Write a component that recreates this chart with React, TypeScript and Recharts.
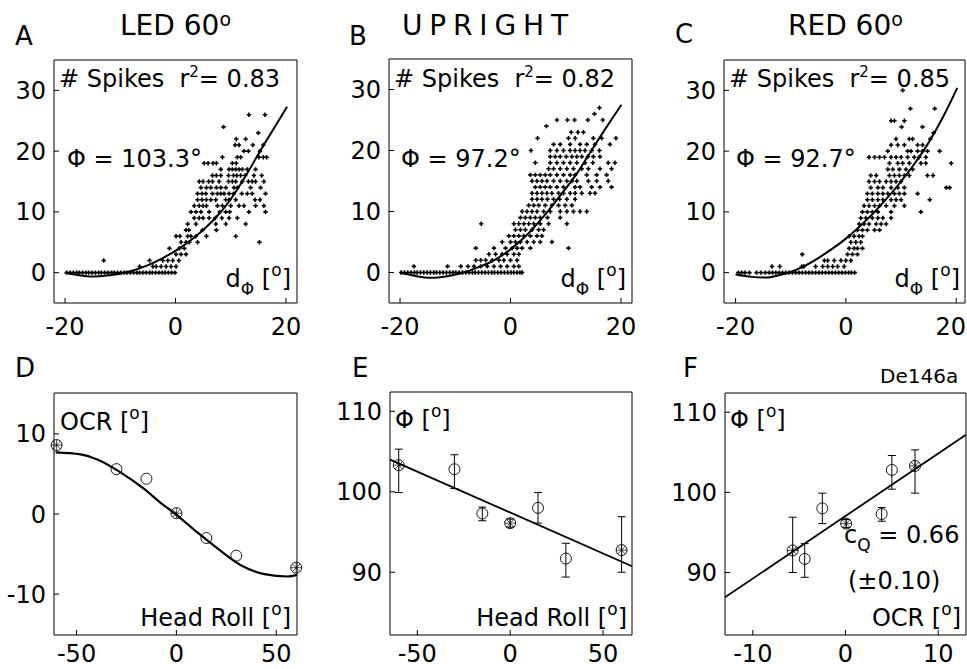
import React from "react";
import { ScatterChart, Scatter, XAxis, YAxis, ErrorBar } from "recharts";

const FONT = "'DejaVu Sans', 'Liberation Sans', sans-serif";
const PAGE_W = 967;

type Row = [number, number[]];
type Pair = [number, number];

// ---------- A-C: spike count vs d_phi ----------
const dPhiTicks = [-20, 0, 20];
const spikeTicks = [0, 10, 20, 30];

// [spike count, d_phi values]
const ledRows: Row[] = [
  [26, [13.3, 16.2]],
  [24, [8.7]],
  [23, [15.0]],
  [22, [11.0, 12.7]],
  [21, [10.8, 11.5, 14.0, 15.9]],
  [20, [12.4, 13.2, 15.3]],
  [19, [8.5, 11.2, 11.8, 15.1, 15.9, 16.5]],
  [18, [5.2, 5.9, 6.8, 7.4, 10.3, 11.0]],
  [17, [8.2, 9.7, 10.3, 10.9, 11.5, 12.1, 13.0, 14.5]],
  [16, [6.7, 7.4, 8.2, 9.6, 10.5, 11.1, 11.8, 12.6, 14.2, 15.6]],
  [15, [4.3, 5.0, 6.0, 6.7, 7.9, 9.6, 10.3, 10.9, 12.1, 13.2, 13.9, 14.5, 16.0]],
  [14, [4.6, 5.6, 6.4, 7.4, 8.2, 9.1, 10.6, 11.2, 13.6, 15.4]],
  [13, [4.0, 4.8, 5.5, 6.7, 7.6, 8.2, 8.8, 9.7, 10.5, 12.0, 13.0, 13.9, 16.3]],
  [12, [4.0, 4.8, 5.6, 6.4, 7.3, 9.1, 9.7, 10.9, 14.4, 15.3]],
  [11, [3.4, 4.3, 5.0, 5.6, 7.6, 8.5, 10.0, 11.5, 12.4, 14.5, 16.0]],
  [10, [2.8, 3.7, 4.6, 6.1, 8.0, 9.1, 9.8, 13.3, 16.3]],
  [9, [3.4, 4.3, 5.0, 6.1, 7.2, 8.4, 9.7, 11.2]],
  [8, [2.2, 3.7, 7.3, 9.1, 12.7]],
  [7, [1.9, 2.4, 4.9, 7.4]],
  [6, [0.1, 0.8, 2.2, 2.8, 3.7, 5.6, 10.9]],
  [5, [1.0, 1.9, 2.5, 4.0, 15.2]],
  [4, [-1.1, 0.7, 1.6]],
  [3, [0.1, 1.0, 1.9]],
  [2, [-13.0, -4.7, -2.3, -1.4, -0.5, 0.6]],
  [1, [-6.5, -4.1, -3.5, -2.6, -1.7, -0.8, 0.1]],
];
const ledZero = [-19.7, -19.1, -18.5, -17.9, -17.4, -16.8, -16.2, -15.7, -15.1, -14.5, -13.9, -13.4, -12.8, -12.2, -11.6, -11.1, -10.5, -9.9, -9.3, -8.8, -8.2, -7.6, -7.0, -6.5, -5.9, -5.3, -4.7, -4.2, -3.6, -3.0, -2.4, -1.9, -1.3, -0.7, -0.1];
const ledFit: Pair[] = [[-20, 0], [-17.5, -0.45], [-15, -0.65], [-12, -0.45], [-8.3, 0.2], [-5.3, 1.1], [-2.3, 2.4], [0.7, 4.0], [3.7, 6.0], [6.7, 8.5], [9.7, 11.7], [12.7, 15.9], [15.7, 20.6], [18, 24.0], [20.2, 27.3]];

const uprightRows: Row[] = [
  [27, [16.1]],
  [26, [15.2]],
  [25, [8.4, 10.3, 11.6, 14.0, 16.7]],
  [24, [6.5]],
  [23, [11.0, 12.2, 13.2]],
  [22, [4.9, 10.5, 11.7, 15.0, 16.5, 19.1]],
  [21, [7.8, 9.0, 10.8, 12.6, 13.8, 15.3, 18.0]],
  [20, [3.7, 7.2, 8.4, 9.6, 10.8, 11.7, 12.6, 13.5, 14.7, 16.1]],
  [19, [7.2, 8.1, 9.0, 10.1, 11.1, 12.0, 12.9, 14.0, 15.0, 16.2]],
  [18, [4.5, 7.2, 8.4, 9.6, 10.8, 12.0, 13.5, 14.9, 17.7, 18.9]],
  [17, [6.9, 7.8, 9.0, 10.2, 11.4, 12.9, 14.1, 16.2, 18.3]],
  [16, [3.6, 4.5, 5.4, 6.3, 7.2, 8.4, 9.6, 10.8, 11.7, 13.8, 15.6, 17.4]],
  [15, [3.9, 4.8, 5.7, 6.6, 7.8, 9.0, 10.2, 11.1, 12.0, 14.1, 15.6, 17.7]],
  [14, [4.5, 5.4, 6.3, 7.2, 8.4, 9.6, 11.7, 12.6, 14.7, 16.2, 18.3]],
  [13, [3.9, 4.8, 5.7, 6.6, 7.5, 8.7, 9.6, 10.8, 11.7, 12.9, 14.4, 15.3]],
  [12, [3.9, 4.8, 5.7, 6.7, 7.8, 8.9, 10.2, 11.7]],
  [11, [3.3, 4.2, 5.1, 6.3, 7.5, 8.7, 9.9, 11.1]],
  [10, [2.1, 3.0, 3.9, 4.8, 6.0, 7.2, 9.0, 10.2, 11.4, 12.6, 13.8]],
  [9, [1.8, 2.7, 3.6, 4.5, 5.4, 6.7, 9.0]],
  [8, [-5.3, 0.6, 1.5, 2.4, 3.3, 4.2, 5.4, 6.9, 10.2]],
  [7, [0.9, 1.8, 2.7, 3.9, 5.1, 6.0]],
  [6, [-0.3, 0.6, 1.5, 2.4, 3.6, 4.8, 5.7]],
  [5, [-1.5, 0.0, 0.9, 1.8, 3.0, 4.2, 5.4, 7.5]],
  [4, [-6.3, -3.0, -0.9, 0.3, 1.2, 2.1, 3.6, 10.5]],
  [3, [-3.9, -2.7, -1.5, -0.6, 0.6, 1.5]],
  [2, [-6.3, -5.4, -4.5, -3.3, -2.1, -1.2, 0.0, 1.2]],
  [1, [-17.5, -11.4, -9.0, -7.7, -6.6, -5.4, -4.2, -3.0, -1.8, -0.6, 0.6, 1.5]],
];
const uprightZero = [-19.8, -19.2, -18.6, -18.0, -17.4, -16.9, -16.3, -15.7, -15.1, -14.5, -13.9, -13.4, -12.8, -12.2, -11.6, -11.0, -10.4, -9.9, -9.3, -8.7, -8.1, -7.5, -6.9, -6.4, -5.8, -5.2, -4.6, -4.0, -3.4, -2.9, -2.3, -1.7, -1.1, -0.5, 0.1, 0.6, 1.2, 1.7, 2.1];
const uprightFit: Pair[] = [[-20, 0], [-17, -0.6], [-14.4, -0.85], [-11.5, -0.6], [-8.5, 0], [-6, 0.8], [-3, 2.0], [0, 3.8], [3, 6.2], [6, 9.2], [9, 12.6], [12, 16.2], [15, 20.5], [17.5, 24], [20.1, 27.5]];

const redRows: Row[] = [
  [30, [10.3]],
  [27, [11.7, 16.1]],
  [25, [8.2, 8.8, 10.6]],
  [24, [10.1, 13.9]],
  [23, [15.9]],
  [22, [9.1, 11.5, 12.1, 15.3]],
  [21, [8.2, 9.4, 10.6, 13.0, 13.9]],
  [20, [7.6, 11.2, 11.8, 13.0, 13.9, 14.8, 17.0]],
  [19, [4.2, 5.2, 6.1, 7.0, 8.2, 9.1, 10.0, 11.2, 12.4, 13.3, 14.5]],
  [18, [7.9, 9.4, 10.3, 11.5, 13.6, 14.5, 19.1]],
  [17, [7.6, 8.5, 9.7, 10.9, 12.1]],
  [16, [4.5, 5.5, 7.9, 8.8, 9.7, 10.6, 11.5, 14.8, 15.8]],
  [15, [4.2, 5.2, 6.1, 7.3, 8.2, 9.1, 10.0]],
  [14, [4.5, 5.8, 6.7, 8.2, 9.4, 10.6, 18.2, 18.8]],
  [13, [3.9, 4.8, 5.8, 6.7, 7.6, 8.8, 9.7, 10.6, 13.0]],
  [12, [3.9, 4.8, 5.8, 6.7, 8.2, 9.1, 10.0, 15.2]],
  [11, [3.3, 4.2, 5.2, 6.1, 7.3, 8.8, 10.6]],
  [10, [3.0, 3.9, 4.8, 5.8, 8.2, 13.6]],
  [9, [2.7, 3.6, 4.8, 5.8, 6.7, 8.2]],
  [8, [2.4, 3.3, 4.2, 5.5, 6.4, 7.3]],
  [7, [2.1, 3.0, 3.9, 5.2, 6.1]],
  [6, [0.6, 1.5, 2.4, 3.0]],
  [5, [0.9, 1.8, 2.7]],
  [4, [0.6, 1.5, 2.1, 3.0]],
  [3, [-7.9, 0.3, 1.2, 2.1]],
  [2, [-3.9, -3.3, -2.1, -0.9, 0.0, 0.9]],
  [1, [-13.4, -12.0, -8.0, -7.6, -5.5, -4.2, -3.3, -2.4, -1.5, -0.3]],
];
const redZero = [-19.5, -18.9, -18.3, -17.5, -16.2, -15.4, -14.6, -13.9, -13.3, -12.7, -12.1, -11.5, -10.9, -10.3, -9.7, -9.1, -8.5, -7.9, -7.3, -6.7, -6.1, -5.5, -4.9, -4.3, -3.7, -3.1, -2.5, -1.9, -1.3, -0.7, -0.1, 0.5, 1.0, 1.6];
const redFit: Pair[] = [[-20, -0.3], [-17, -0.7], [-14.5, -0.8], [-12, -0.4], [-10, 0.1], [-7.5, 1.1], [-5, 2.4], [-2.5, 3.9], [0, 5.6], [2.5, 7.6], [5, 9.8], [7.5, 12.3], [10, 15], [12.5, 18], [15, 21.4], [17.5, 25.4], [20.2, 30.4]];

// ---------- D: OCR vs head roll ----------
const rollTicks = [-50, 0, 50];
const ocrTicks = [-10, 0, 10];
const headRoll = [-60, -30, -15, 0, 15, 30, 60];
const starredRolls = [-60, 0, 60];
const ocr = [8.6, 5.6, 4.4, 0.1, -3.0, -5.2, -6.7];
const ocrFit: Pair[] = [[-60.5, 7.7], [-48, 7.45], [-39.6, 6.8], [-28, 5.2], [-16, 3.1], [-7.9, 1.4], [0, -0.1], [10.5, -2.3], [20.6, -4.3], [32.3, -6.4], [44, -7.5], [55.7, -7.8], [60.3, -7.6]];

// ---------- E: phi vs head roll, F: phi vs OCR ----------
const phiTicks = [90, 100, 110];
const ocrAxisTicks = [-10, 0, 10];
const phi = [103.3, 102.8, 97.3, 96.1, 98.0, 91.7, 92.75];
const phiErrLow = [3.4, 2.4, 0.9, 0.5, 1.9, 2.3, 2.75];
const phiErrHigh = [2.0, 1.8, 0.8, 0.5, 1.9, 1.9, 4.15];
const phiRollFit: Pair[] = [[-64.7, 104.0], [65.6, 90.75]];
const ocrAtPhi = [7.5, 5.0, 3.9, 0.07, -2.5, -4.4, -5.7];
const phiOcrFit: Pair[] = [[-13, 86.9], [13, 107.2]];

const toSpikePoints = (rows: Row[], zero: number[]) => [
  ...zero.map((x) => ({ x, y: 0 })),
  ...rows.flatMap(([y, xs]) => xs.map((x) => ({ x, y }))),
];
const toXY = (pairs: Pair[]) => pairs.map(([x, y]) => ({ x, y }));

const ocrPoints = headRoll.map((r, i) => ({ x: r, y: ocr[i], star: starredRolls.includes(r) }));
const phiRollPoints = headRoll.map((r, i) => ({ x: r, y: phi[i], err: [phiErrLow[i], phiErrHigh[i]], star: starredRolls.includes(r) }));
const phiOcrPoints = headRoll.map((r, i) => ({ x: ocrAtPhi[i], y: phi[i], err: [phiErrLow[i], phiErrHigh[i]], star: starredRolls.includes(r) }));

// ---------- shapes ----------
const SpikeDot = (p: any) => (
  <path d={`M${p.cx - 2.2},${p.cy}h4.4M${p.cx},${p.cy - 2.2}v4.4`} stroke="#000" strokeWidth={1.6} fill="none" />
);
const NoDot = () => <g />;
const OpenDot = (p: any) => {
  const r = 5.5;
  const { cx, cy } = p;
  const star = p.payload ? p.payload.star : p.star;
  const d = r * 0.7;
  return (
    <g>
      <circle cx={cx} cy={cy} r={r} fill="none" stroke="#000" strokeWidth={0.9} />
      {star && (
        <path
          d={`M${cx - r},${cy}h${2 * r}M${cx},${cy - r}v${2 * r}M${cx - d},${cy - d}l${2 * d},${2 * d}M${cx - d},${cy + d}l${2 * d},${-2 * d}`}
          stroke="#000"
          strokeWidth={0.7}
        />
      )}
    </g>
  );
};

// ---------- frame ----------
type Box = { x: number; y: number; w: number; h: number };
const PL = 64, PT = 12, PR = 14, PB = 50, XH = 44, YW = 60;
const tickStyle = { fill: "#000", fontSize: 24, fontFamily: FONT };

// bottom tick label, kept inside the page on the right
const makeXTick = (maxRight: number) => (p: any) => {
  const label = String(p.payload.value);
  const half = label.length * 7.6;
  const end = p.x + half > maxRight;
  return (
    <text x={end ? maxRight : p.x} y={p.y} dy="0.71em" textAnchor={end ? "end" : "middle"} fill="#000" fontSize={24} fontFamily={FONT}>
      {label}
    </text>
  );
};

function Frame({ box, xDomain, yDomain, xTicks, yTicks, xGap, children }: any) {
  const left = box.x - PL;
  return (
    <div style={{ position: "absolute", left, top: box.y - PT }}>
      <ScatterChart
        width={box.w + PL + PR}
        height={box.h + PT + PB}
        margin={{ top: PT - 1, right: PR - 1, bottom: PB - XH, left: PL - YW }}
      >
        <XAxis xAxisId="b" type="number" dataKey="x" domain={xDomain} ticks={xTicks} interval={0} height={XH} tickSize={-5} tickMargin={xGap} tick={makeXTick(PAGE_W - left - 1)} stroke="#000" />
        <XAxis xAxisId="t" orientation="top" type="number" dataKey="x" domain={xDomain} ticks={xTicks} interval={0} height={1} tickSize={-5} tick={false} stroke="#000" />
        <YAxis yAxisId="l" type="number" dataKey="y" domain={yDomain} ticks={yTicks} interval={0} width={YW} tickSize={-5} tickMargin={13} tick={tickStyle} stroke="#000" />
        <YAxis yAxisId="r" orientation="right" type="number" dataKey="y" domain={yDomain} ticks={yTicks} interval={0} width={1} tickSize={-5} tick={false} stroke="#000" />
        {children}
      </ScatterChart>
    </div>
  );
}

function SpikePanel({ box, xDomain, rows, zero, fit }: { box: Box; xDomain: number[]; rows: Row[]; zero: number[]; fit: Pair[] }) {
  return (
    <Frame box={box} xDomain={xDomain} yDomain={[-5, 35]} xTicks={dPhiTicks} yTicks={spikeTicks} xGap={20}>
      <Scatter xAxisId="b" yAxisId="l" data={toSpikePoints(rows, zero)} shape={SpikeDot} isAnimationActive={false} />
      <Scatter xAxisId="b" yAxisId="l" data={toXY(fit)} shape={NoDot} line={{ stroke: "#000", strokeWidth: 2 }} lineJointType="monotoneX" isAnimationActive={false} />
    </Frame>
  );
}

const Deg = ({ up = 11, size = 17 }: { up?: number; size?: number }) => (
  <>
    <tspan dy={-up} fontSize={size}>o</tspan>
    <tspan dy={up}>]</tspan>
  </>
);

const NB = "\u00a0";

function Labels() {
  const t = { fontFamily: FONT, fill: "#000" } as const;
  return (
    <svg width={967} height={669} style={{ position: "absolute", left: 0, top: 0, pointerEvents: "none" }}>
      <g {...t} fontSize={26}>
        <text x={15} y={45}>A</text>
        <text x={349} y={45}>B</text>
        <text x={675} y={43}>C</text>
        <text x={15} y={377}>D</text>
        <text x={352} y={377}>E</text>
        <text x={683} y={377}>F</text>
      </g>
      <g {...t} fontSize={28}>
        <text x={120} y={35}>LED 60<tspan dy={-9} fontSize={19}>o</tspan></text>
        <text x={402} y={35} textLength={166} lengthAdjust="spacing">UPRIGHT</text>
        <text x={788} y={35}>RED 60<tspan dy={-9} fontSize={19}>o</tspan></text>
      </g>
      <g {...t} fontSize={24}>
        {[
          { x: 59, r2: "0.83", phi: "103.3", px: 67, end: 291 },
          { x: 394, r2: "0.82", phi: "97.2", px: 401, end: 626 },
          { x: 729, r2: "0.85", phi: "92.7", px: 736, end: 960 },
        ].map((p) => (
          <g key={p.x}>
            <text x={p.x} y={87}>
              {`# Spikes${NB}${NB}r`}<tspan dy={-10} fontSize={15}>2</tspan><tspan dy={10}>= {p.r2}</tspan>
            </text>
            <text x={p.px} y={167}>Φ = {p.phi}°</text>
            <text x={p.end} y={287} textAnchor="end">
              d<tspan dy={8} fontSize={17}>Φ</tspan><tspan dy={-8}>{`${NB}[`}</tspan><Deg />
            </text>
          </g>
        ))}
        <text x={60} y={430}>OCR [<Deg /></text>
        <text x={291} y={626} textAnchor="end">Head Roll [<Deg /></text>
        <text x={395} y={428}>Φ [<Deg /></text>
        <text x={627} y={626} textAnchor="end">Head Roll [<Deg /></text>
        <text x={730} y={428}>Φ [<Deg /></text>
        <text x={844} y={543}>
          c<tspan dy={8} fontSize={17}>Q</tspan><tspan dy={-8}>{`${NB}= 0.66`}</tspan>
        </text>
        <text x={848} y={589}>(±0.10)</text>
        <text x={961} y={626} textAnchor="end">OCR [<Deg /></text>
        <text x={880} y={383} fontSize={20}>De146a</text>
      </g>
    </svg>
  );
}

export default function App() {
  return (
    <div style={{ position: "absolute", left: 0, top: 0, width: 967, height: 669, overflow: "hidden", background: "#fff", fontFamily: FONT }}>
      <SpikePanel box={{ x: 54, y: 60, w: 243, h: 243 }} xDomain={[-22, 22]} rows={ledRows} zero={ledZero} fit={ledFit} />
      <SpikePanel box={{ x: 389, y: 59, w: 243, h: 244 }} xDomain={[-22, 22]} rows={uprightRows} zero={uprightZero} fit={uprightFit} />
      <SpikePanel box={{ x: 724, y: 60, w: 241, h: 243 }} xDomain={[-22.1, 21.6]} rows={redRows} zero={redZero} fit={redFit} />

      <Frame box={{ x: 54, y: 393, w: 243, h: 242 }} xDomain={[-61.3, 60.4]} yDomain={[-15.1, 15.1]} xTicks={rollTicks} yTicks={ocrTicks} xGap={15}>
        <Scatter xAxisId="b" yAxisId="l" data={toXY(ocrFit)} shape={NoDot} line={{ stroke: "#000", strokeWidth: 2.2 }} lineJointType="monotoneX" isAnimationActive={false} />
        <Scatter xAxisId="b" yAxisId="l" data={ocrPoints} shape={OpenDot} isAnimationActive={false} />
      </Frame>

      <Frame box={{ x: 390, y: 392, w: 242, h: 243 }} xDomain={[-64.7, 65.6]} yDomain={[82.2, 112.4]} xTicks={rollTicks} yTicks={phiTicks} xGap={15}>
        <Scatter xAxisId="b" yAxisId="l" data={toXY(phiRollFit)} shape={NoDot} line={{ stroke: "#000", strokeWidth: 1.8 }} isAnimationActive={false} />
        <Scatter xAxisId="b" yAxisId="l" data={phiRollPoints} shape={OpenDot} isAnimationActive={false}>
          <ErrorBar dataKey="err" direction="y" width={4} stroke="#000" strokeWidth={1} />
        </Scatter>
      </Frame>

      <Frame box={{ x: 725, y: 393, w: 241, h: 242 }} xDomain={[-13, 13]} yDomain={[82.2, 112.4]} xTicks={ocrAxisTicks} yTicks={phiTicks} xGap={15}>
        <Scatter xAxisId="b" yAxisId="l" data={toXY(phiOcrFit)} shape={NoDot} line={{ stroke: "#000", strokeWidth: 1.8 }} isAnimationActive={false} />
        <Scatter xAxisId="b" yAxisId="l" data={phiOcrPoints} shape={OpenDot} isAnimationActive={false}>
          <ErrorBar dataKey="err" direction="y" width={4} stroke="#000" strokeWidth={1} />
        </Scatter>
      </Frame>

      <Labels />
    </div>
  );
}
